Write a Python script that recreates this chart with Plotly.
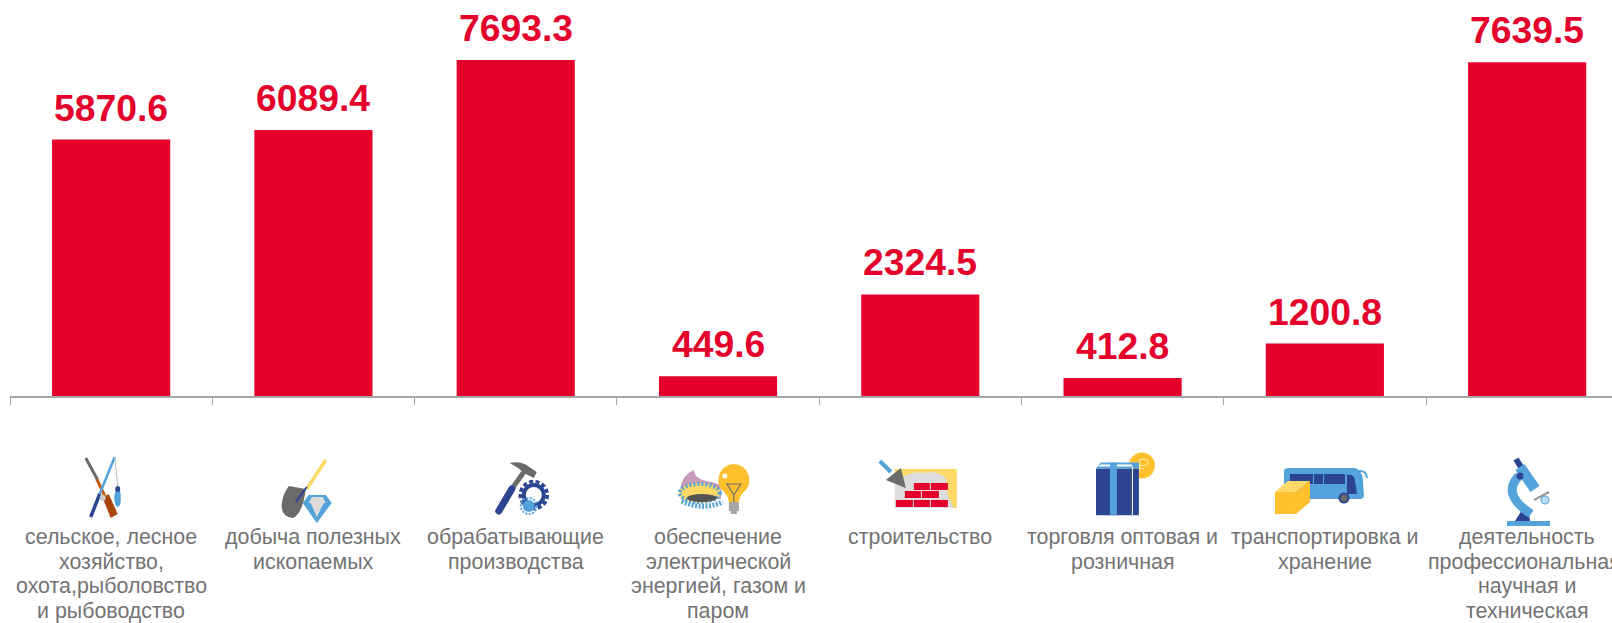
import base64
import plotly.graph_objects as go

categories = [
    "сельское, лесное хозяйство, охота,рыболовство и рыбоводство",
    "добыча полезных ископаемых",
    "обрабатывающие производства",
    "обеспечение электрической энергией, газом и паром",
    "строительство",
    "торговля оптовая и розничная",
    "транспортировка и хранение",
    "деятельность профессиональная, научная и техническая",
]
category_lines = [
    ["сельское, лесное", "хозяйство,", "охота,рыболовство", "и рыбоводство"],
    ["добыча полезных", "ископаемых"],
    ["обрабатывающие", "производства"],
    ["обеспечение", "электрической", "энергией, газом и", "паром"],
    ["строительство"],
    ["торговля оптовая и", "розничная"],
    ["транспортировка и", "хранение"],
    ["деятельность", "профессиональная,", "научная и", "техническая"],
]
values = [5870.6, 6089.4, 7693.3, 449.6, 2324.5, 412.8, 1200.8, 7639.5]

RED = "#E4002B"
BLUE = "#54A3DB"
NAVY = "#2B4590"
GRAY = "#6B6B6B"
YEL = "#FFD966"
GOLD = "#FFC02E"
LGRAY = "#DDDDDD"
TEXT = "#737373"

W, H = 1612, 623
LEFT, AXIS_Y = 10.3, 396
STEP = 202.25
FIRST_LINE_Y, LINE_STEP = 537.4, 24.45

icons = [
 (85, 456, 36, 62, f'''
  <line x1="1" y1="2" x2="13" y2="24" stroke="{GRAY}" stroke-width="3"/>
  <line x1="12" y1="23" x2="21" y2="42" stroke="#C0600F" stroke-width="3"/>
  <polygon points="18,42 24,38 33,58 26,62" fill="#A9460F"/>
  <line x1="30" y1="1" x2="15" y2="38" stroke="{BLUE}" stroke-width="2.5"/>
  <line x1="15" y1="38" x2="6" y2="61" stroke="{NAVY}" stroke-width="3.5"/>
  <line x1="30" y1="1" x2="33" y2="30" stroke="#BBBBBB" stroke-width="1"/>
  <ellipse cx="33" cy="42" rx="3.5" ry="9" fill="{BLUE}"/>
  <ellipse cx="33" cy="33" rx="2.5" ry="3" fill="{NAVY}"/>
  <circle cx="18" cy="42" r="3" fill="#CCCCCC"/>'''),
 (281, 459, 52, 65, f'''
  <line x1="45" y1="1" x2="26" y2="30" stroke="{YEL}" stroke-width="3.5"/>
  <path d="M8 27 L25 30 Q22 55 12 59 Q0 58 1 45 Q2 35 8 27 Z" fill="{GRAY}"/>
  <path d="M26 28 L15 43" stroke="{NAVY}" stroke-width="2" fill="none"/>
  <polygon points="28,36 45,36 51,44 36,64 22,44" fill="{BLUE}"/>
  <polygon points="31,38 42,38 45,44 28,44" fill="{LGRAY}"/>
  <polygon points="30,44 43,44 36,58" fill="{LGRAY}"/>'''),
 (494, 460, 57, 55, f'''
  <line x1="30" y1="12" x2="18" y2="29" stroke="{GRAY}" stroke-width="5"/>
  <line x1="18" y1="29" x2="5" y2="51" stroke="{NAVY}" stroke-width="7" stroke-linecap="round"/>
  <path d="M16 3 Q28 0 37 8 L43 12 L40 18 L30 13 Q24 7 16 3 Z" fill="{GRAY}"/>
  <circle cx="40" cy="35" r="10" fill="none" stroke="{NAVY}" stroke-width="4"/>
  <circle cx="40" cy="35" r="13.5" fill="none" stroke="{NAVY}" stroke-width="3.5" stroke-dasharray="4 2.5"/>
  <circle cx="35" cy="46" r="6" fill="{BLUE}"/>
  <circle cx="35" cy="46" r="8" fill="none" stroke="{BLUE}" stroke-width="2" stroke-dasharray="2 1.5"/>'''),
 (677, 463, 73, 52, f'''
  <path d="M3 27 Q5 12 17 7 Q18 17 35 19 L44 22 L44 36 L5 36 Z" fill="#C99BBB"/>
  <ellipse cx="23" cy="30" rx="21" ry="10" fill="{YEL}"/>
  <ellipse cx="23" cy="30" rx="20" ry="9" fill="none" stroke="{BLUE}" stroke-width="4" stroke-dasharray="2 2"/>
  <ellipse cx="25" cy="35" rx="15" ry="4" fill="#555555"/>
  <path d="M5 38 Q25 48 46 39" fill="none" stroke="{BLUE}" stroke-width="5" stroke-dasharray="2 1.5"/>
  <path d="M57 1 A16 16 0 0 1 68 28 Q63 32 62 39 L52 39 Q51 32 46 28 A16 16 0 0 1 57 1 Z" fill="{GOLD}"/>
  <path d="M50 21 L64 21 L57 32 Z M57 32 L57 39" fill="none" stroke="{GRAY}" stroke-width="1.2"/>
  <rect x="52" y="39" width="10" height="9" fill="#A6A6A6"/>
  <rect x="54" y="48" width="6" height="3" fill="#A6A6A6"/>
  <circle cx="48" cy="13" r="2.5" fill="#FFFFFF"/>'''),
 (878, 458, 80, 52, f'''
  <rect x="17" y="11" width="62" height="39" fill="{YEL}"/>
  <path d="M17 50 L17 25 Q30 12 45 15 Q60 12 68 20 L70 38 L76 50 Z" fill="{LGRAY}"/>
  <g fill="{RED}">
   <rect x="36" y="25" width="16" height="7"/><rect x="53" y="25" width="17" height="7"/>
   <rect x="27" y="33" width="16" height="7"/><rect x="44" y="33" width="17" height="7"/>
   <rect x="18" y="42" width="17" height="7"/><rect x="36" y="42" width="16" height="7"/><rect x="53" y="42" width="17" height="7"/>
  </g>
  <line x1="2" y1="3" x2="13" y2="14" stroke="{BLUE}" stroke-width="4"/>
  <polygon points="23,10 8,22 28,30" fill="{GRAY}"/>'''),
 (1096, 451.5, 59, 64, f'''
  <circle cx="46" cy="14" r="13" fill="{GOLD}"/>
  <path d="M44 20 L44 8 L49 8 A3 3 0 0 1 49 14 L42 14 M42 17 L48 17" fill="none" stroke="#FFE9A8" stroke-width="1"/>
  <rect x="0" y="17" width="43" height="47" fill="{NAVY}"/>
  <polygon points="0,17 5,11 43,11 43,17" fill="{BLUE}"/>
  <polygon points="2,15 5,13 36,13 36,15" fill="#FFFFFF"/>
  <rect x="14" y="11" width="7" height="53" fill="{BLUE}"/>
  <rect x="36" y="15" width="1" height="49" fill="#FFFFFF"/>'''),
 (1275, 468, 93, 46, f'''
  <path d="M9 3 Q9 0 14 0 L80 0 Q87 2 88 12 L89 28 Q89 31 85 31 L9 31 Z" fill="{BLUE}"/>
  <path d="M84 3 Q91 2 92 10" fill="none" stroke="{BLUE}" stroke-width="2"/>
  <rect x="15" y="6" width="23" height="10" fill="{NAVY}"/>
  <rect x="39" y="6" width="9" height="10" fill="{NAVY}"/>
  <rect x="49" y="6" width="21" height="10" fill="{NAVY}"/>
  <path d="M72 7 Q79 6 80 12 L82 26 L72 26 Z" fill="{NAVY}"/>
  <circle cx="69" cy="30" r="4.5" fill="{GRAY}" stroke="{NAVY}" stroke-width="2"/>
  <polygon points="0,24 13,13 35,13 21,24" fill="{YEL}"/>
  <rect x="0" y="24" width="21" height="22" fill="{GOLD}"/>
  <polygon points="21,24 35,13 35,34 21,46" fill="{GOLD}"/>'''),
 (1507, 456, 43, 70, f'''
  <rect x="0" y="65" width="43" height="5" fill="{BLUE}"/>
  <polygon points="8,65 15,54 22,57 23,65" fill="{NAVY}"/>
  <line x1="9" y1="3" x2="14" y2="11" stroke="{NAVY}" stroke-width="6"/>
  <line x1="13" y1="11" x2="28" y2="33" stroke="{BLUE}" stroke-width="11"/>
  <path d="M12 20 Q-6 38 24 58" fill="none" stroke="{BLUE}" stroke-width="9"/>
  <line x1="27" y1="44" x2="42" y2="36" stroke="#999999" stroke-width="2"/>
  <circle cx="13" cy="20" r="3.5" fill="{NAVY}"/>
  <circle cx="38" cy="44" r="4" fill="#BBD9F0" stroke="{BLUE}"/>'''),
]

plot_w = W - LEFT


def icon_image(left, top, w, h, body):
    svg = (f'<svg xmlns="http://www.w3.org/2000/svg" width="{w}" height="{h}" '
           f'viewBox="0 0 {w} {h}">{body}</svg>')
    src = "data:image/svg+xml;base64," + base64.b64encode(svg.encode()).decode()
    return dict(source=src, xref="paper", yref="paper",
                x=(left - LEFT) / plot_w, y=(AXIS_Y - top) / AXIS_Y,
                sizex=w / plot_w, sizey=h / AXIS_Y,
                xanchor="left", yanchor="top", sizing="stretch", layer="above")


fig = go.Figure(go.Bar(x=categories, y=values, marker_color=RED,
                       marker_line_width=0, hoverinfo="skip"))

for c, v in zip(categories, values):
    fig.add_annotation(x=c, y=v, text=f"{v:.1f}", showarrow=False, yanchor="bottom",
                       yshift=9, font=dict(family="Liberation Sans", size=37.3, color=RED,
                                           weight="bold"))

for c, lines in zip(categories, category_lines):
    for n, line in enumerate(lines):
        fig.add_annotation(x=c, xref="x", y=0, yref="paper", text=line, showarrow=False,
                           yanchor="middle", xanchor="center",
                           yshift=AXIS_Y - FIRST_LINE_Y - n * LINE_STEP,
                           font=dict(family="Liberation Sans", size=21.4, color=TEXT))

fig.update_layout(
    width=W, height=H, autosize=False,
    margin=dict(l=LEFT, r=0, t=0, b=H - AXIS_Y, pad=0),
    paper_bgcolor="white", plot_bgcolor="white",
    showlegend=False, bargap=0.416,
    font=dict(family="Liberation Sans", color=TEXT),
    images=[icon_image(*i) for i in icons],
)
fig.update_xaxes(
    type="category", categoryorder="array", categoryarray=categories,
    range=[-0.5, -0.5 + plot_w / STEP], tickson="boundaries", ticks="outside",
    ticklen=7, tickwidth=1, tickcolor="#A6A6A6", showline=True, linecolor="#A6A6A6",
    linewidth=1.5, showgrid=False, zeroline=False, showticklabels=False,
    automargin=False, fixedrange=True,
)
fig.update_yaxes(range=[0, AXIS_Y / (336 / 7693.3)], visible=False, fixedrange=True)

fig.write_html("out.html", config={"displayModeBar": False},
               post_script="document.body.style.margin='0';document.body.style.overflow='hidden';")
